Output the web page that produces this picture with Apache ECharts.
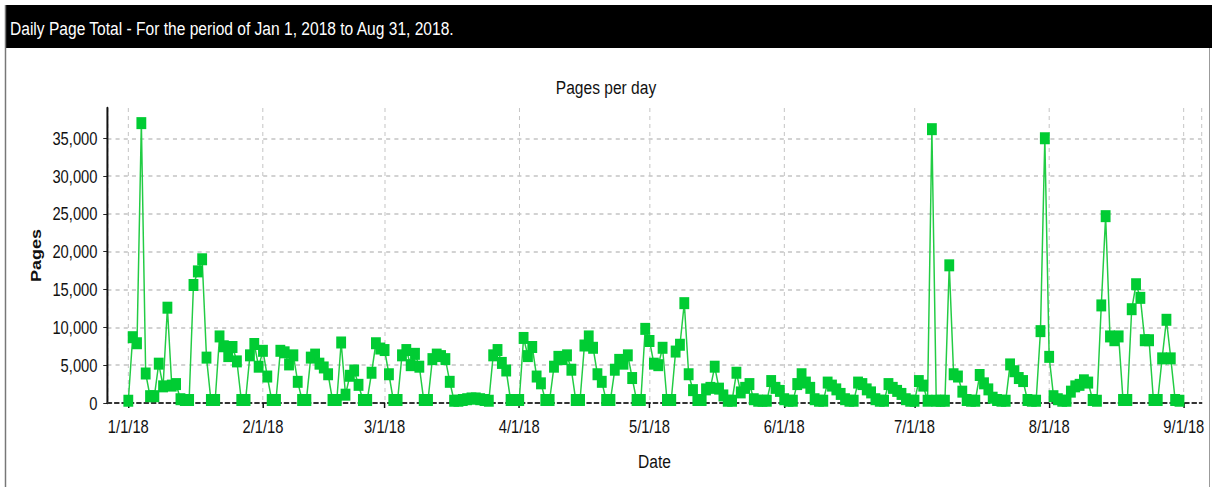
<!DOCTYPE html>
<html>
<head>
<meta charset="utf-8">
<script src="https://cdn.jsdelivr.net/npm/echarts@6/dist/echarts.min.js"></script>
<style>
html,body{margin:0;padding:0;background:#fff;overflow:hidden;width:1212px;height:487px;}
/* the reference picture is horizontally compressed; draw wider and squeeze to 1212px */
#chart{width:1478px;height:487px;transform:scaleX(0.82);transform-origin:0 0;}
</style>
</head>
<body>
<div id="chart"></div>
<script>
// ---- data (daily page totals) ----
const startDate = [2018, 0, 1];
const jan = [300, 8700, 7900, 37000, 3900, 900, 900, 5200, 2200, 12600, 2300, 2500, 500, 400, 400, 15600, 17400, 19000, 6000, 400, 400, 8800, 7500, 6200, 7400, 5500, 400, 400, 6300, 7800, 4800];
const feb = [6900, 3500, 400, 400, 6900, 6700, 5100, 6300, 2800, 400, 400, 6000, 6400, 5200, 4700, 3800, 400, 400, 8000, 1100, 3600, 4300, 2400, 400, 400, 4000, 7900, 7200];
const mar = [7000, 3800, 400, 400, 6300, 7000, 5000, 6500, 4800, 400, 400, 5800, 6400, 6200, 5800, 2800, 300, 300, 400, 500, 600, 600, 500, 400, 300, 6300, 7000, 5300, 4300, 400, 400];
const apr = [400, 8600, 6200, 7400, 3500, 2600, 400, 400, 4800, 6100, 5800, 6300, 4400, 400, 400, 7600, 8800, 7300, 3800, 2800, 400, 400, 4400, 5700, 5200, 6300, 3300, 400, 400, 9800];
const may = [8200, 5200, 5000, 7300, 400, 400, 6800, 7700, 13200, 3800, 1700, 400, 400, 1800, 2000, 4800, 1900, 1000, 300, 300, 4000, 1400, 2000, 2500, 500, 300, 300, 300, 2900, 2000, 1600];
const jun = [500, 300, 300, 2500, 3800, 2700, 2000, 500, 300, 300, 2700, 2300, 1800, 1200, 500, 300, 300, 2700, 2500, 1800, 1400, 500, 300, 300, 2500, 2000, 1600, 1200, 500, 300];
const jul = [300, 2900, 2300, 300, 36200, 300, 300, 300, 18200, 3800, 3500, 1500, 400, 300, 300, 3700, 2600, 1800, 700, 400, 300, 300, 5100, 4200, 3300, 2900, 400, 300, 300, 9500, 35000];
const aug = [6100, 900, 500, 300, 300, 1500, 2200, 2400, 3000, 2700, 400, 300, 12900, 24700, 8800, 8300, 8800, 400, 400, 12400, 15700, 13900, 8300, 8300, 400, 400, 5900, 11000, 5900, 400, 300];
const yTicks = [0, 5000, 10000, 15000, 20000, 25000, 30000, 35000];
const xTickLabels = ['1/1/18', '2/1/18', '3/1/18', '4/1/18', '5/1/18', '6/1/18', '7/1/18', '8/1/18', '9/1/18'];

const headerText = 'Daily Page Total - For the period of Jan 1, 2018 to Aug 31, 2018.';
const chartTitle = 'Pages per day';

// ---- build series ----
const values = [].concat(jan, feb, mar, apr, may, jun, jul, aug);
const seriesData = values.map((v, i) => [new Date(startDate[0], startDate[1], startDate[2] + i).getTime(), v]);

const FONT = "'Liberation Sans', Arial, sans-serif";
const DAY = 86400000;
const xMin = new Date(2018, 0, 1).getTime() - 4.83 * DAY;
const xMax = new Date(2018, 0, 1).getTime() + 247.1 * DAY;
const yMax = 39000;

const chart = echarts.init(document.getElementById('chart'), null, {renderer: 'svg'});
chart.setOption({
  backgroundColor: '#ffffff',
  animation: false,
  title: {
    text: chartTitle,
    left: 'center',
    top: 73,
    textStyle: {fontFamily: FONT, fontSize: 19, fontWeight: 'normal', color: '#111'}
  },
  graphic: [
    {type: 'rect', shape: {x: 7.3, y: 5, width: 1471, height: 43}, style: {fill: '#000'}, z: 10},
    {type: 'text', x: 12.2, y: 28, style: {text: headerText, fill: '#fff', font: "19px 'Liberation Sans', Arial", textVerticalAlign: 'middle'}, z: 11},
    {type: 'line', shape: {x1: 6.7, y1: 5, x2: 6.7, y2: 487}, style: {stroke: '#777', lineWidth: 1.8}, z: 10},
    {type: 'line', shape: {x1: 1475, y1: 48, x2: 1475, y2: 487}, style: {stroke: '#999', lineWidth: 1.2}, z: 10}
  ],
  grid: {left: 130.9, right: 12.6, top: 108, bottom: 84, containLabel: false},
  xAxis: {
    type: 'time',
    min: xMin,
    max: xMax,
    minInterval: 28 * DAY,
    maxInterval: 31 * DAY,
    name: 'Date',
    nameLocation: 'middle',
    nameGap: 49,
    nameTextStyle: {fontFamily: FONT, fontSize: 19, color: '#111'},
    axisLine: {show: true, lineStyle: {color: '#333', width: 2, type: [5, 4]}},
    axisTick: {show: true, length: 5, lineStyle: {color: '#111', width: 1.8}},
    axisLabel: {
      fontFamily: FONT, fontSize: 18, color: '#111', margin: 14,
      hideOverlap: false,
      formatter: function (val) {
        const d = new Date(val);
        const idx = (d.getFullYear() - 2018) * 12 + d.getMonth();
        if (d.getDate() !== 1 || idx < 0 || idx >= xTickLabels.length) return '';
        return xTickLabels[idx];
      }
    },
    splitLine: {show: true, lineStyle: {color: '#c4c4c4', type: [4, 4], width: 1.2}}
  },
  yAxis: {
    type: 'value',
    min: 0,
    max: yMax,
    interval: 5000,
    name: 'Pages',
    nameLocation: 'middle',
    nameGap: 68,
    nameTextStyle: {fontFamily: FONT, fontSize: 18, fontWeight: 'bold', color: '#111'},
    axisLine: {show: true, lineStyle: {color: '#111', width: 2.4}},
    axisTick: {show: true, length: 5, lineStyle: {color: '#111'}},
    axisLabel: {
      fontFamily: FONT, fontSize: 18, color: '#111', margin: 12,
      showMaxLabel: false,
      formatter: function (v) { return yTicks.indexOf(v) >= 0 ? v.toLocaleString('en-US') : ''; }
    },
    splitLine: {show: true, showMaxLine: false, showMinLine: false, lineStyle: {color: '#c4c4c4', type: [5, 5], width: 1.5}}
  },
  series: [{
    type: 'line',
    data: seriesData,
    symbol: 'rect',
    symbolSize: [12, 12],
    showAllSymbol: true,
    itemStyle: {color: '#00cc33'},
    lineStyle: {color: '#22cc44', width: 1.8},
    z: 3
  }]
});
</script>
</body>
</html>
